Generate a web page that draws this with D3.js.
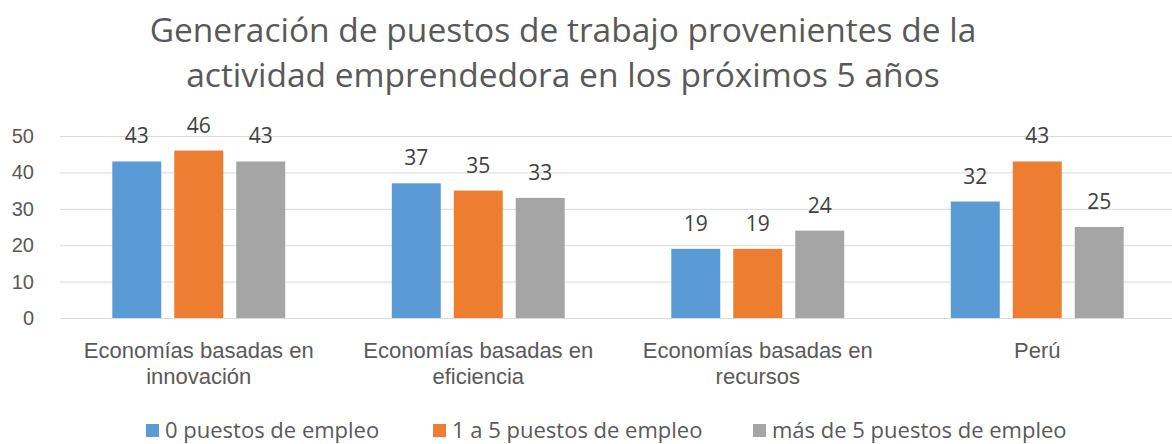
<!DOCTYPE html>
<html>
<head>
<meta charset="utf-8">
<script src="https://cdn.jsdelivr.net/npm/d3@7"></script>
<style>
  body { margin: 0; background: #fff; }
  svg { display: block; font-family: "Open Sans", sans-serif; }
  .tick text { fill: #595959; }
</style>
</head>
<body>
<svg id="chart" width="1172" height="444"></svg>
<script>
// data
const titleLines = [
    "Generación de puestos de trabajo provenientes de la",
    "actividad emprendedora en los próximos 5 años"
];
const categories = [
    "Economías basadas en innovación",
    "Economías basadas en eficiencia",
    "Economías basadas en recursos",
    "Perú"
];
const categoryLines = [
    ["Economías basadas en", "innovación"],
    ["Economías basadas en", "eficiencia"],
    ["Economías basadas en", "recursos"],
    ["Perú"]
];
const series = ["0 puestos de empleo", "1 a 5 puestos de empleo", "más de 5 puestos de empleo"];
const cero = [43, 37, 19, 32];
const unoACinco = [46, 35, 19, 43];
const masDeCinco = [43, 33, 24, 25];
const yTicks = [0, 10, 20, 30, 40, 50];
const colors = ["#5B9BD5", "#ED7D31", "#A5A5A5"];

const values = [cero, unoACinco, masDeCinco];
const rows = categories.map((c, i) => ({
    cat: c,
    vals: series.map((s, j) => ({ key: s, value: values[j][i] }))
}));

const svg = d3.select("#chart");
const W = 1172;

const x0 = d3.scaleBand()
    .domain(categories)
    .range([59, 1177])
    .paddingInner(0)
    .paddingOuter(0);

const x1 = d3.scaleBand()
    .domain(series)
    .range([0, x0.bandwidth()])
    .paddingInner(0.21)
    .paddingOuter(0.86);

const y = d3.scaleLinear()
    .domain([0, 50])
    .range([318, 136]);

const color = d3.scaleOrdinal().domain(series).range(colors);

// Title
svg.append("text")
    .attr("x", 563)
    .attr("y", 42)
    .attr("text-anchor", "middle")
    .attr("fill", "#595959")
    .style("font-size", "33.5px")
    .selectAll("tspan")
    .data(titleLines)
    .join("tspan")
    .attr("x", 563)
    .attr("dy", (d, i) => i === 0 ? 0 : 45)
    .text(d => d);

// Gridlines
svg.append("g")
    .attr("transform", `translate(60,0)`)
    .call(d3.axisLeft(y).tickValues(yTicks).tickSize(-(W - 60)).tickFormat(""))
    .call(g => g.select(".domain").remove())
    .call(g => g.selectAll(".tick line").attr("stroke", "#d9d9d9").attr("stroke-width", 1));

// Y axis labels
svg.append("g")
    .attr("transform", `translate(60,0)`)
    .call(d3.axisLeft(y).tickValues(yTicks).tickSize(0).tickPadding(26))
    .call(g => g.select(".domain").remove())
    .call(g => g.selectAll(".tick text").style("font-size", "20px"));

// Bars
const groups = svg.selectAll(".grp")
    .data(rows)
    .join("g")
    .attr("class", "grp")
    .attr("transform", d => `translate(${x0(d.cat)},0)`);

groups.selectAll("rect")
    .data(d => d.vals)
    .join("rect")
    .attr("x", d => x1(d.key))
    .attr("y", d => y(d.value))
    .attr("width", x1.bandwidth())
    .attr("height", d => y(0) - y(d.value))
    .attr("fill", d => color(d.key));

groups.selectAll(".val")
    .data(d => d.vals)
    .join("text")
    .attr("class", "val")
    .attr("x", d => x1(d.key) + x1.bandwidth() / 2)
    .attr("y", d => y(d.value) - 18)
    .attr("text-anchor", "middle")
    .attr("fill", "#404040")
    .style("font-size", "21px")
    .text(d => d.value);

// X axis labels
svg.append("g")
    .attr("transform", `translate(0,318)`)
    .call(d3.axisBottom(x0).tickSize(0).tickFormat(""))
    .call(g => g.select(".domain").remove())
    .call(g => g.selectAll(".tick").each(function (d, i) {
        d3.select(this).select("text").remove();
        d3.select(this).append("text")
            .attr("text-anchor", "middle")
            .attr("fill", "#595959")
            .style("font-size", "22px")
            .selectAll("tspan")
            .data(categoryLines[i])
            .join("tspan")
            .attr("x", 0)
            .attr("y", (t, k) => 40 + k * 26)
            .text(t => t);
    }));

// Legend
const legendX = [146, 433, 753];
const legend = svg.append("g")
    .attr("transform", `translate(0,438)`);

const items = legend.selectAll("g")
    .data(series)
    .join("g")
    .attr("transform", (d, i) => `translate(${legendX[i]},0)`);

items.append("rect")
    .attr("y", -14)
    .attr("width", 13)
    .attr("height", 13)
    .attr("fill", d => color(d));

items.append("text")
    .attr("x", 19)
    .attr("fill", "#595959")
    .style("font-size", "22px")
    .text(d => d);
</script>
</body>
</html>
